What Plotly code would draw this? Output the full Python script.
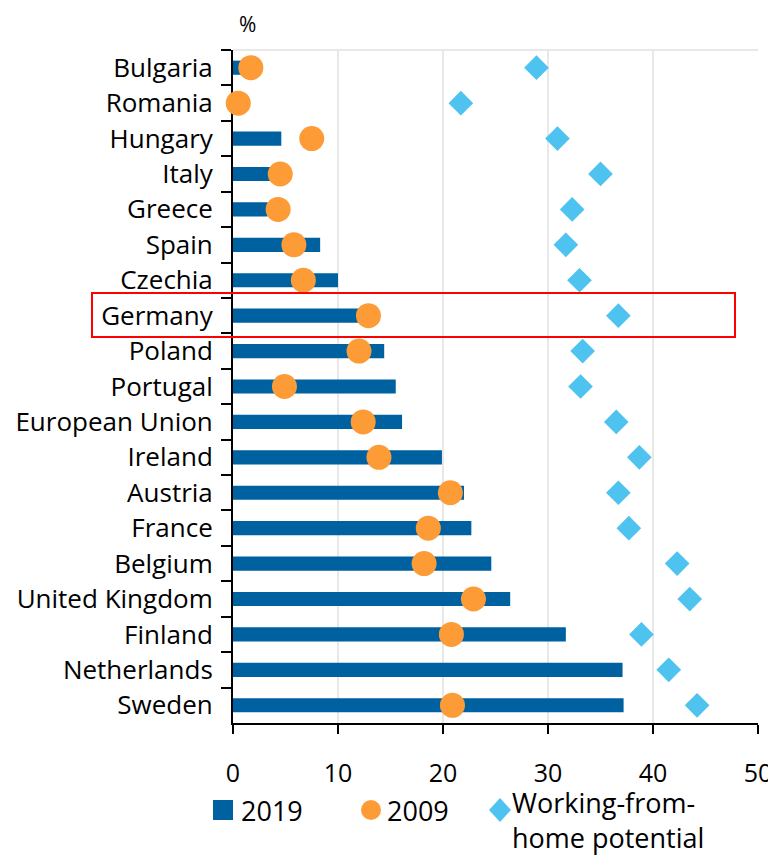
import plotly.graph_objects as go

# data (share of employees, %)
countries = ["Bulgaria", "Romania", "Hungary", "Italy", "Greece", "Spain", "Czechia",
             "Germany", "Poland", "Portugal", "European Union", "Ireland", "Austria",
             "France", "Belgium", "United Kingdom", "Finland", "Netherlands", "Sweden"]
share_2019 = [1.0, 0.3, 4.6, 3.6, 3.3, 8.3, 10.0, 12.0, 14.4, 15.5, 16.1, 19.9, 22.0,
              22.7, 24.6, 26.4, 31.7, 37.1, 37.2]
share_2009 = [1.7, 0.5, 7.5, 4.5, 4.3, 5.8, 6.7, 12.9, 12.0, 4.9, 12.4, 13.9, 20.7,
              18.6, 18.2, 22.9, 20.8, None, 20.9]
wfh_potential = [28.9, 21.7, 30.9, 35.0, 32.3, 31.7, 33.0, 36.7, 33.3, 33.1, 36.5, 38.7,
                 36.7, 37.7, 42.3, 43.5, 38.9, 41.5, 44.2]
x_ticks = [0, 10, 20, 30, 40, 50]

# the page body has an 8px margin, so the figure is drawn 8px in from the window corner
OFF = 8
W, H = 776 - OFF, 859 - OFF
L, R, T, B = 233 - OFF, 18, 50 - OFF, 136
FONT = "Open Sans"
BLUE, ORANGE, LIGHT = "#0061a1", "#fd9b37", "#4fc3f0"


# window pixel -> paper coordinate
def px(x):
    return (x - OFF - L) / (W - L - R)


def py(y):
    return (H - B - (y - OFF)) / (H - T - B)


fig = go.Figure()

fig.add_trace(go.Bar(x=share_2019, y=countries, orientation="h", width=0.4,
                     marker=dict(color=BLUE, line_width=0), name="2019", showlegend=False))
fig.add_trace(go.Scatter(x=share_2009, y=countries, mode="markers", cliponaxis=False,
                         marker=dict(color=ORANGE, size=25, line_width=0),
                         name="2009", showlegend=False))
fig.add_trace(go.Scatter(x=wfh_potential, y=countries, mode="markers", cliponaxis=False,
                         marker=dict(color=LIGHT, size=19, symbol="diamond", line_width=0),
                         name="Working-from-home potential", showlegend=False))

shapes = [
    # light frame line on top of plot area
    dict(type="line", xref="paper", yref="paper", x0=0, x1=1, y0=1, y1=1,
         line=dict(color="#e8e8e8", width=2)),
    # red highlight box round Germany
    dict(type="rect", xref="paper", yref="paper", x0=px(92), x1=px(735), y0=py(337), y1=py(293),
         line=dict(color="#ff0000", width=2), layer="above"),
    # legend symbols
    dict(type="rect", xref="paper", yref="paper", x0=px(213), x1=px(233), y0=py(820), y1=py(800),
         fillcolor=BLUE, line_width=0),
    dict(type="circle", xref="paper", yref="paper", x0=px(361), x1=px(381), y0=py(820), y1=py(800),
         fillcolor=ORANGE, line_width=0),
    dict(type="path", xref="paper", yref="paper",
         path=f"M {px(489)},{py(810)} L {px(500)},{py(798)} L {px(511)},{py(810)} L {px(500)},{py(822)} Z",
         fillcolor=LIGHT, line_width=0),
]


def legend_text(text, x, y):
    return dict(text=text, x=px(x), y=py(y), xref="paper", yref="paper", showarrow=False,
                xanchor="left", yanchor="middle", font=dict(size=27))


annotations = [
    dict(text="%", x=px(247), y=py(8), xref="paper", yref="paper", showarrow=False,
         xanchor="center", yanchor="top", font=dict(size=21)),
    legend_text("2019", 239, 810),
    legend_text("2009", 385, 810),
    dict(text="Working-from-<br>home potential", x=px(510), y=py(858), xref="paper", yref="paper",
         showarrow=False, xanchor="left", yanchor="bottom", align="left", font=dict(size=27)),
]

fig.update_layout(
    width=W, height=H,
    margin=dict(l=L, r=R, t=T, b=B),
    plot_bgcolor="white", paper_bgcolor="white",
    font=dict(family=FONT, size=25, color="black"),
    showlegend=False,
    shapes=shapes,
    annotations=annotations,
)
fig.update_xaxes(range=[0, 50], tickvals=x_ticks, showgrid=True, gridcolor="#e8e8e8", gridwidth=2,
                 zeroline=False, showline=True, linecolor="black", linewidth=2,
                 ticks="outside", ticklen=9, tickwidth=2, tickcolor="black",
                 ticklabelstandoff=18, automargin=False,
                 tickfont=dict(size=25), layer="below traces")
fig.update_yaxes(type="category", categoryorder="array", categoryarray=countries,
                 range=[len(countries) - 0.5, -0.5], tickson="boundaries", showgrid=False,
                 showline=True, linecolor="black", linewidth=2,
                 ticks="outside", ticklen=10, tickwidth=2, tickcolor="black",
                 ticklabelstandoff=13, automargin=False,
                 tickfont=dict(size=26), layer="below traces")

fig.write_html("out.html")
